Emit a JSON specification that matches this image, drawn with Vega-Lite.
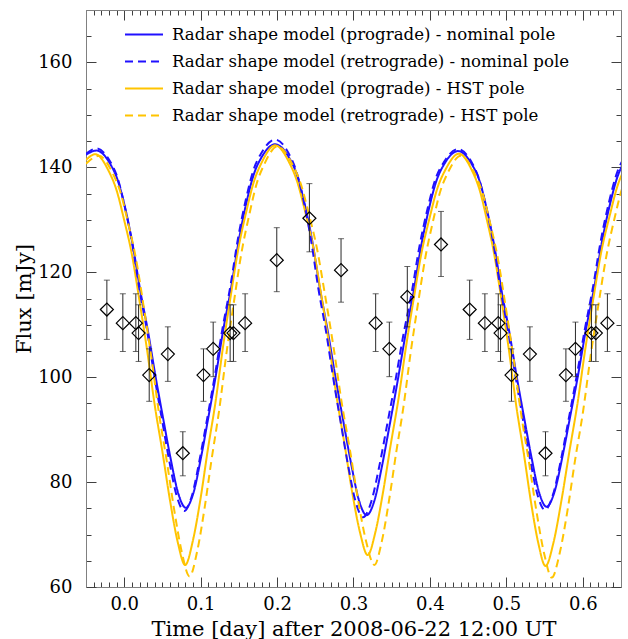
{
  "$schema": "https://vega.github.io/schema/vega-lite/v6.json",
  "width": 535,
  "height": 577,
  "autosize": {"type": "none"},
  "padding": {"left": 86, "top": 10, "right": 7, "bottom": 52},
  "background": "white",
  "config": {
    "view": {"stroke": null},
    "axis": {
      "grid": false,
      "labelFont": "DejaVu Serif",
      "titleFont": "DejaVu Serif",
      "labelFontSize": 18,
      "titleFontSize": 21,
      "titleFontWeight": "normal",
      "labelColor": "black",
      "titleColor": "black",
      "domainColor": "#808080",
      "domainWidth": 1,
      "tickColor": "#404040",
      "tickWidth": 1,
      "labelFlush": false,
      "labelOverlap": false
    }
  },
  "datasets": {
    "curves": [
      {"s": "Radar shape model (prograde) - nominal pole", "x": -0.05, "y": 142.4},
      {"s": "Radar shape model (prograde) - nominal pole", "x": -0.0365, "y": 143.2},
      {"s": "Radar shape model (prograde) - nominal pole", "x": -0.0189, "y": 140.8},
      {"s": "Radar shape model (prograde) - nominal pole", "x": -0.0084, "y": 137.5},
      {"s": "Radar shape model (prograde) - nominal pole", "x": 0.0010, "y": 132.4},
      {"s": "Radar shape model (prograde) - nominal pole", "x": 0.0115, "y": 124.9},
      {"s": "Radar shape model (prograde) - nominal pole", "x": 0.0209, "y": 116.6},
      {"s": "Radar shape model (prograde) - nominal pole", "x": 0.0314, "y": 108.5},
      {"s": "Radar shape model (prograde) - nominal pole", "x": 0.0408, "y": 100.3},
      {"s": "Radar shape model (prograde) - nominal pole", "x": 0.0513, "y": 91.85},
      {"s": "Radar shape model (prograde) - nominal pole", "x": 0.0607, "y": 84.5},
      {"s": "Radar shape model (prograde) - nominal pole", "x": 0.0706, "y": 77.9},
      {"s": "Radar shape model (prograde) - nominal pole", "x": 0.0806, "y": 75.1},
      {"s": "Radar shape model (prograde) - nominal pole", "x": 0.0905, "y": 77.9},
      {"s": "Radar shape model (prograde) - nominal pole", "x": 0.1005, "y": 84.7},
      {"s": "Radar shape model (prograde) - nominal pole", "x": 0.1098, "y": 92.1},
      {"s": "Radar shape model (prograde) - nominal pole", "x": 0.1203, "y": 100.7},
      {"s": "Radar shape model (prograde) - nominal pole", "x": 0.1297, "y": 109.1},
      {"s": "Radar shape model (prograde) - nominal pole", "x": 0.1402, "y": 117.3},
      {"s": "Radar shape model (prograde) - nominal pole", "x": 0.1496, "y": 125.8},
      {"s": "Radar shape model (prograde) - nominal pole", "x": 0.1601, "y": 133.4},
      {"s": "Radar shape model (prograde) - nominal pole", "x": 0.1694, "y": 138.6},
      {"s": "Radar shape model (prograde) - nominal pole", "x": 0.1800, "y": 142.0},
      {"s": "Radar shape model (prograde) - nominal pole", "x": 0.1975, "y": 144.4},
      {"s": "Radar shape model (prograde) - nominal pole", "x": 0.2155, "y": 141.9},
      {"s": "Radar shape model (prograde) - nominal pole", "x": 0.2262, "y": 138.5},
      {"s": "Radar shape model (prograde) - nominal pole", "x": 0.2358, "y": 133.2},
      {"s": "Radar shape model (prograde) - nominal pole", "x": 0.2466, "y": 125.5},
      {"s": "Radar shape model (prograde) - nominal pole", "x": 0.2562, "y": 116.8},
      {"s": "Radar shape model (prograde) - nominal pole", "x": 0.2669, "y": 108.3},
      {"s": "Radar shape model (prograde) - nominal pole", "x": 0.2765, "y": 99.9},
      {"s": "Radar shape model (prograde) - nominal pole", "x": 0.2873, "y": 91.1},
      {"s": "Radar shape model (prograde) - nominal pole", "x": 0.2969, "y": 83.5},
      {"s": "Radar shape model (prograde) - nominal pole", "x": 0.3070, "y": 76.6},
      {"s": "Radar shape model (prograde) - nominal pole", "x": 0.3172, "y": 73.7},
      {"s": "Radar shape model (prograde) - nominal pole", "x": 0.3274, "y": 76.5},
      {"s": "Radar shape model (prograde) - nominal pole", "x": 0.3376, "y": 83.3},
      {"s": "Radar shape model (prograde) - nominal pole", "x": 0.3472, "y": 90.8},
      {"s": "Radar shape model (prograde) - nominal pole", "x": 0.3579, "y": 99.4},
      {"s": "Radar shape model (prograde) - nominal pole", "x": 0.3675, "y": 107.7},
      {"s": "Radar shape model (prograde) - nominal pole", "x": 0.3783, "y": 116.0},
      {"s": "Radar shape model (prograde) - nominal pole", "x": 0.3879, "y": 124.5},
      {"s": "Radar shape model (prograde) - nominal pole", "x": 0.3987, "y": 132.1},
      {"s": "Radar shape model (prograde) - nominal pole", "x": 0.4082, "y": 137.3},
      {"s": "Radar shape model (prograde) - nominal pole", "x": 0.4190, "y": 140.7},
      {"s": "Radar shape model (prograde) - nominal pole", "x": 0.4370, "y": 143.1},
      {"s": "Radar shape model (prograde) - nominal pole", "x": 0.4543, "y": 140.7},
      {"s": "Radar shape model (prograde) - nominal pole", "x": 0.4647, "y": 137.5},
      {"s": "Radar shape model (prograde) - nominal pole", "x": 0.4740, "y": 132.3},
      {"s": "Radar shape model (prograde) - nominal pole", "x": 0.4844, "y": 124.9},
      {"s": "Radar shape model (prograde) - nominal pole", "x": 0.4936, "y": 116.6},
      {"s": "Radar shape model (prograde) - nominal pole", "x": 0.5040, "y": 108.5},
      {"s": "Radar shape model (prograde) - nominal pole", "x": 0.5132, "y": 100.4},
      {"s": "Radar shape model (prograde) - nominal pole", "x": 0.5236, "y": 92.0},
      {"s": "Radar shape model (prograde) - nominal pole", "x": 0.5329, "y": 84.7},
      {"s": "Radar shape model (prograde) - nominal pole", "x": 0.5427, "y": 78.1},
      {"s": "Radar shape model (prograde) - nominal pole", "x": 0.5525, "y": 75.3},
      {"s": "Radar shape model (prograde) - nominal pole", "x": 0.5629, "y": 78.1},
      {"s": "Radar shape model (prograde) - nominal pole", "x": 0.5733, "y": 84.8},
      {"s": "Radar shape model (prograde) - nominal pole", "x": 0.5831, "y": 92.2},
      {"s": "Radar shape model (prograde) - nominal pole", "x": 0.5942, "y": 100.7},
      {"s": "Radar shape model (prograde) - nominal pole", "x": 0.6040, "y": 109.0},
      {"s": "Radar shape model (prograde) - nominal pole", "x": 0.6150, "y": 117.1},
      {"s": "Radar shape model (prograde) - nominal pole", "x": 0.6248, "y": 125.6},
      {"s": "Radar shape model (prograde) - nominal pole", "x": 0.6358, "y": 133.1},
      {"s": "Radar shape model (prograde) - nominal pole", "x": 0.6456, "y": 138.3},
      {"s": "Radar shape model (prograde) - nominal pole", "x": 0.6566, "y": 141.6},

      {"s": "Radar shape model (prograde) - HST pole", "x": -0.05, "y": 141.4},
      {"s": "Radar shape model (prograde) - HST pole", "x": -0.038, "y": 142.5},
      {"s": "Radar shape model (prograde) - HST pole", "x": -0.0203, "y": 139.3},
      {"s": "Radar shape model (prograde) - HST pole", "x": -0.0097, "y": 135.5},
      {"s": "Radar shape model (prograde) - HST pole", "x": -0.0003, "y": 130.1},
      {"s": "Radar shape model (prograde) - HST pole", "x": 0.0103, "y": 123.2},
      {"s": "Radar shape model (prograde) - HST pole", "x": 0.0197, "y": 114.8},
      {"s": "Radar shape model (prograde) - HST pole", "x": 0.0303, "y": 104.8},
      {"s": "Radar shape model (prograde) - HST pole", "x": 0.0397, "y": 94.9},
      {"s": "Radar shape model (prograde) - HST pole", "x": 0.0503, "y": 85.5},
      {"s": "Radar shape model (prograde) - HST pole", "x": 0.0598, "y": 76.6},
      {"s": "Radar shape model (prograde) - HST pole", "x": 0.0698, "y": 68.7},
      {"s": "Radar shape model (prograde) - HST pole", "x": 0.0798, "y": 64.2},
      {"s": "Radar shape model (prograde) - HST pole", "x": 0.0898, "y": 68.8},
      {"s": "Radar shape model (prograde) - HST pole", "x": 0.0998, "y": 76.8},
      {"s": "Radar shape model (prograde) - HST pole", "x": 0.1092, "y": 86.0},
      {"s": "Radar shape model (prograde) - HST pole", "x": 0.1198, "y": 95.6},
      {"s": "Radar shape model (prograde) - HST pole", "x": 0.1292, "y": 105.7},
      {"s": "Radar shape model (prograde) - HST pole", "x": 0.1398, "y": 115.9},
      {"s": "Radar shape model (prograde) - HST pole", "x": 0.1492, "y": 124.4},
      {"s": "Radar shape model (prograde) - HST pole", "x": 0.1598, "y": 131.6},
      {"s": "Radar shape model (prograde) - HST pole", "x": 0.1693, "y": 137.1},
      {"s": "Radar shape model (prograde) - HST pole", "x": 0.1798, "y": 140.9},
      {"s": "Radar shape model (prograde) - HST pole", "x": 0.1975, "y": 144.2},
      {"s": "Radar shape model (prograde) - HST pole", "x": 0.2156, "y": 141.0},
      {"s": "Radar shape model (prograde) - HST pole", "x": 0.2265, "y": 137.2},
      {"s": "Radar shape model (prograde) - HST pole", "x": 0.2362, "y": 131.9},
      {"s": "Radar shape model (prograde) - HST pole", "x": 0.2471, "y": 124.9},
      {"s": "Radar shape model (prograde) - HST pole", "x": 0.2568, "y": 116.5},
      {"s": "Radar shape model (prograde) - HST pole", "x": 0.2677, "y": 106.6},
      {"s": "Radar shape model (prograde) - HST pole", "x": 0.2774, "y": 96.7},
      {"s": "Radar shape model (prograde) - HST pole", "x": 0.2882, "y": 87.3},
      {"s": "Radar shape model (prograde) - HST pole", "x": 0.2979, "y": 78.4},
      {"s": "Radar shape model (prograde) - HST pole", "x": 0.3082, "y": 70.6},
      {"s": "Radar shape model (prograde) - HST pole", "x": 0.3185, "y": 66.1},
      {"s": "Radar shape model (prograde) - HST pole", "x": 0.3287, "y": 70.5},
      {"s": "Radar shape model (prograde) - HST pole", "x": 0.3388, "y": 78.2},
      {"s": "Radar shape model (prograde) - HST pole", "x": 0.3484, "y": 86.9},
      {"s": "Radar shape model (prograde) - HST pole", "x": 0.3591, "y": 96.1},
      {"s": "Radar shape model (prograde) - HST pole", "x": 0.3687, "y": 105.8},
      {"s": "Radar shape model (prograde) - HST pole", "x": 0.3794, "y": 115.5},
      {"s": "Radar shape model (prograde) - HST pole", "x": 0.3890, "y": 123.7},
      {"s": "Radar shape model (prograde) - HST pole", "x": 0.3998, "y": 130.5},
      {"s": "Radar shape model (prograde) - HST pole", "x": 0.4093, "y": 135.8},
      {"s": "Radar shape model (prograde) - HST pole", "x": 0.4201, "y": 139.5},
      {"s": "Radar shape model (prograde) - HST pole", "x": 0.4380, "y": 142.6},
      {"s": "Radar shape model (prograde) - HST pole", "x": 0.4550, "y": 139.4},
      {"s": "Radar shape model (prograde) - HST pole", "x": 0.4652, "y": 135.6},
      {"s": "Radar shape model (prograde) - HST pole", "x": 0.4742, "y": 130.2},
      {"s": "Radar shape model (prograde) - HST pole", "x": 0.4844, "y": 123.2},
      {"s": "Radar shape model (prograde) - HST pole", "x": 0.4935, "y": 114.8},
      {"s": "Radar shape model (prograde) - HST pole", "x": 0.5037, "y": 104.8},
      {"s": "Radar shape model (prograde) - HST pole", "x": 0.5127, "y": 94.8},
      {"s": "Radar shape model (prograde) - HST pole", "x": 0.5229, "y": 85.4},
      {"s": "Radar shape model (prograde) - HST pole", "x": 0.5320, "y": 76.4},
      {"s": "Radar shape model (prograde) - HST pole", "x": 0.5416, "y": 68.5},
      {"s": "Radar shape model (prograde) - HST pole", "x": 0.5512, "y": 64.0},
      {"s": "Radar shape model (prograde) - HST pole", "x": 0.5617, "y": 68.5},
      {"s": "Radar shape model (prograde) - HST pole", "x": 0.5722, "y": 76.6},
      {"s": "Radar shape model (prograde) - HST pole", "x": 0.5822, "y": 85.6},
      {"s": "Radar shape model (prograde) - HST pole", "x": 0.5933, "y": 95.2},
      {"s": "Radar shape model (prograde) - HST pole", "x": 0.6032, "y": 105.3},
      {"s": "Radar shape model (prograde) - HST pole", "x": 0.6143, "y": 115.4},
      {"s": "Radar shape model (prograde) - HST pole", "x": 0.6242, "y": 123.9},
      {"s": "Radar shape model (prograde) - HST pole", "x": 0.6354, "y": 130.9},
      {"s": "Radar shape model (prograde) - HST pole", "x": 0.6453, "y": 136.4},
      {"s": "Radar shape model (prograde) - HST pole", "x": 0.6564, "y": 140.2},

      {"s": "Radar shape model (retrograde) - nominal pole", "x": -0.05, "y": 142.6},
      {"s": "Radar shape model (retrograde) - nominal pole", "x": -0.036, "y": 143.6},
      {"s": "Radar shape model (retrograde) - nominal pole", "x": -0.0188, "y": 141.2},
      {"s": "Radar shape model (retrograde) - nominal pole", "x": -0.0085, "y": 137.9},
      {"s": "Radar shape model (retrograde) - nominal pole", "x": 0.0006, "y": 132.6},
      {"s": "Radar shape model (retrograde) - nominal pole", "x": 0.0109, "y": 125.1},
      {"s": "Radar shape model (retrograde) - nominal pole", "x": 0.0201, "y": 116.6},
      {"s": "Radar shape model (retrograde) - nominal pole", "x": 0.0304, "y": 108.4},
      {"s": "Radar shape model (retrograde) - nominal pole", "x": 0.0396, "y": 100.1},
      {"s": "Radar shape model (retrograde) - nominal pole", "x": 0.0499, "y": 91.5},
      {"s": "Radar shape model (retrograde) - nominal pole", "x": 0.0590, "y": 84.0},
      {"s": "Radar shape model (retrograde) - nominal pole", "x": 0.0688, "y": 77.3},
      {"s": "Radar shape model (retrograde) - nominal pole", "x": 0.0785, "y": 74.5},
      {"s": "Radar shape model (retrograde) - nominal pole", "x": 0.0886, "y": 77.4},
      {"s": "Radar shape model (retrograde) - nominal pole", "x": 0.0987, "y": 84.3},
      {"s": "Radar shape model (retrograde) - nominal pole", "x": 0.1083, "y": 91.9},
      {"s": "Radar shape model (retrograde) - nominal pole", "x": 0.1190, "y": 100.7},
      {"s": "Radar shape model (retrograde) - nominal pole", "x": 0.1285, "y": 109.2},
      {"s": "Radar shape model (retrograde) - nominal pole", "x": 0.1392, "y": 117.6},
      {"s": "Radar shape model (retrograde) - nominal pole", "x": 0.1487, "y": 126.3},
      {"s": "Radar shape model (retrograde) - nominal pole", "x": 0.1594, "y": 134.0},
      {"s": "Radar shape model (retrograde) - nominal pole", "x": 0.1689, "y": 139.4},
      {"s": "Radar shape model (retrograde) - nominal pole", "x": 0.1797, "y": 142.8},
      {"s": "Radar shape model (retrograde) - nominal pole", "x": 0.1975, "y": 145.3},
      {"s": "Radar shape model (retrograde) - nominal pole", "x": 0.2147, "y": 142.8},
      {"s": "Radar shape model (retrograde) - nominal pole", "x": 0.2251, "y": 139.3},
      {"s": "Radar shape model (retrograde) - nominal pole", "x": 0.2343, "y": 133.9},
      {"s": "Radar shape model (retrograde) - nominal pole", "x": 0.2446, "y": 126.0},
      {"s": "Radar shape model (retrograde) - nominal pole", "x": 0.2538, "y": 117.1},
      {"s": "Radar shape model (retrograde) - nominal pole", "x": 0.2642, "y": 108.6},
      {"s": "Radar shape model (retrograde) - nominal pole", "x": 0.2734, "y": 99.9},
      {"s": "Radar shape model (retrograde) - nominal pole", "x": 0.2837, "y": 91.0},
      {"s": "Radar shape model (retrograde) - nominal pole", "x": 0.2929, "y": 83.2},
      {"s": "Radar shape model (retrograde) - nominal pole", "x": 0.3027, "y": 76.3},
      {"s": "Radar shape model (retrograde) - nominal pole", "x": 0.3125, "y": 73.3},
      {"s": "Radar shape model (retrograde) - nominal pole", "x": 0.3231, "y": 76.2},
      {"s": "Radar shape model (retrograde) - nominal pole", "x": 0.3337, "y": 83.0},
      {"s": "Radar shape model (retrograde) - nominal pole", "x": 0.3436, "y": 90.6},
      {"s": "Radar shape model (retrograde) - nominal pole", "x": 0.3548, "y": 99.3},
      {"s": "Radar shape model (retrograde) - nominal pole", "x": 0.3648, "y": 107.7},
      {"s": "Radar shape model (retrograde) - nominal pole", "x": 0.3760, "y": 116.0},
      {"s": "Radar shape model (retrograde) - nominal pole", "x": 0.3860, "y": 124.7},
      {"s": "Radar shape model (retrograde) - nominal pole", "x": 0.3972, "y": 132.3},
      {"s": "Radar shape model (retrograde) - nominal pole", "x": 0.4071, "y": 137.7},
      {"s": "Radar shape model (retrograde) - nominal pole", "x": 0.4183, "y": 141.0},
      {"s": "Radar shape model (retrograde) - nominal pole", "x": 0.4370, "y": 143.5},
      {"s": "Radar shape model (retrograde) - nominal pole", "x": 0.4540, "y": 141.1},
      {"s": "Radar shape model (retrograde) - nominal pole", "x": 0.4642, "y": 137.8},
      {"s": "Radar shape model (retrograde) - nominal pole", "x": 0.4733, "y": 132.6},
      {"s": "Radar shape model (retrograde) - nominal pole", "x": 0.4835, "y": 125.1},
      {"s": "Radar shape model (retrograde) - nominal pole", "x": 0.4926, "y": 116.6},
      {"s": "Radar shape model (retrograde) - nominal pole", "x": 0.5028, "y": 108.4},
      {"s": "Radar shape model (retrograde) - nominal pole", "x": 0.5119, "y": 100.2},
      {"s": "Radar shape model (retrograde) - nominal pole", "x": 0.5221, "y": 91.6},
      {"s": "Radar shape model (retrograde) - nominal pole", "x": 0.5312, "y": 84.2},
      {"s": "Radar shape model (retrograde) - nominal pole", "x": 0.5409, "y": 77.5},
      {"s": "Radar shape model (retrograde) - nominal pole", "x": 0.5505, "y": 74.7},
      {"s": "Radar shape model (retrograde) - nominal pole", "x": 0.5610, "y": 77.6},
      {"s": "Radar shape model (retrograde) - nominal pole", "x": 0.5715, "y": 84.3},
      {"s": "Radar shape model (retrograde) - nominal pole", "x": 0.5814, "y": 91.9},
      {"s": "Radar shape model (retrograde) - nominal pole", "x": 0.5925, "y": 100.6},
      {"s": "Radar shape model (retrograde) - nominal pole", "x": 0.6024, "y": 108.9},
      {"s": "Radar shape model (retrograde) - nominal pole", "x": 0.6135, "y": 117.3},
      {"s": "Radar shape model (retrograde) - nominal pole", "x": 0.6234, "y": 125.9},
      {"s": "Radar shape model (retrograde) - nominal pole", "x": 0.6345, "y": 133.5},
      {"s": "Radar shape model (retrograde) - nominal pole", "x": 0.6444, "y": 138.8},
      {"s": "Radar shape model (retrograde) - nominal pole", "x": 0.6555, "y": 142.2},

      {"s": "Radar shape model (retrograde) - HST pole", "x": -0.05, "y": 140.7},
      {"s": "Radar shape model (retrograde) - HST pole", "x": -0.033, "y": 142.2},
      {"s": "Radar shape model (retrograde) - HST pole", "x": -0.0152, "y": 138.9},
      {"s": "Radar shape model (retrograde) - HST pole", "x": -0.0046, "y": 135.1},
      {"s": "Radar shape model (retrograde) - HST pole", "x": 0.0049, "y": 129.5},
      {"s": "Radar shape model (retrograde) - HST pole", "x": 0.0156, "y": 122.4},
      {"s": "Radar shape model (retrograde) - HST pole", "x": 0.0251, "y": 113.8},
      {"s": "Radar shape model (retrograde) - HST pole", "x": 0.0357, "y": 103.6},
      {"s": "Radar shape model (retrograde) - HST pole", "x": 0.0452, "y": 93.4},
      {"s": "Radar shape model (retrograde) - HST pole", "x": 0.0559, "y": 83.8},
      {"s": "Radar shape model (retrograde) - HST pole", "x": 0.0654, "y": 74.7},
      {"s": "Radar shape model (retrograde) - HST pole", "x": 0.0754, "y": 66.6},
      {"s": "Radar shape model (retrograde) - HST pole", "x": 0.0855, "y": 62.0},
      {"s": "Radar shape model (retrograde) - HST pole", "x": 0.0953, "y": 66.7},
      {"s": "Radar shape model (retrograde) - HST pole", "x": 0.1051, "y": 75.0},
      {"s": "Radar shape model (retrograde) - HST pole", "x": 0.1143, "y": 84.3},
      {"s": "Radar shape model (retrograde) - HST pole", "x": 0.1246, "y": 94.1},
      {"s": "Radar shape model (retrograde) - HST pole", "x": 0.1338, "y": 104.6},
      {"s": "Radar shape model (retrograde) - HST pole", "x": 0.1442, "y": 115.0},
      {"s": "Radar shape model (retrograde) - HST pole", "x": 0.1534, "y": 123.7},
      {"s": "Radar shape model (retrograde) - HST pole", "x": 0.1637, "y": 131.0},
      {"s": "Radar shape model (retrograde) - HST pole", "x": 0.1729, "y": 136.7},
      {"s": "Radar shape model (retrograde) - HST pole", "x": 0.1833, "y": 140.6},
      {"s": "Radar shape model (retrograde) - HST pole", "x": 0.2005, "y": 144.0},
      {"s": "Radar shape model (retrograde) - HST pole", "x": 0.2195, "y": 140.7},
      {"s": "Radar shape model (retrograde) - HST pole", "x": 0.2309, "y": 136.9},
      {"s": "Radar shape model (retrograde) - HST pole", "x": 0.2411, "y": 131.4},
      {"s": "Radar shape model (retrograde) - HST pole", "x": 0.2525, "y": 124.3},
      {"s": "Radar shape model (retrograde) - HST pole", "x": 0.2626, "y": 115.8},
      {"s": "Radar shape model (retrograde) - HST pole", "x": 0.2740, "y": 105.6},
      {"s": "Radar shape model (retrograde) - HST pole", "x": 0.2842, "y": 95.5},
      {"s": "Radar shape model (retrograde) - HST pole", "x": 0.2956, "y": 85.9},
      {"s": "Radar shape model (retrograde) - HST pole", "x": 0.3057, "y": 76.8},
      {"s": "Radar shape model (retrograde) - HST pole", "x": 0.3165, "y": 68.7},
      {"s": "Radar shape model (retrograde) - HST pole", "x": 0.3273, "y": 64.2},
      {"s": "Radar shape model (retrograde) - HST pole", "x": 0.3369, "y": 68.6},
      {"s": "Radar shape model (retrograde) - HST pole", "x": 0.3465, "y": 76.5},
      {"s": "Radar shape model (retrograde) - HST pole", "x": 0.3556, "y": 85.4},
      {"s": "Radar shape model (retrograde) - HST pole", "x": 0.3658, "y": 94.8},
      {"s": "Radar shape model (retrograde) - HST pole", "x": 0.3748, "y": 104.7},
      {"s": "Radar shape model (retrograde) - HST pole", "x": 0.3850, "y": 114.6},
      {"s": "Radar shape model (retrograde) - HST pole", "x": 0.3941, "y": 122.9},
      {"s": "Radar shape model (retrograde) - HST pole", "x": 0.4043, "y": 129.9},
      {"s": "Radar shape model (retrograde) - HST pole", "x": 0.4133, "y": 135.3},
      {"s": "Radar shape model (retrograde) - HST pole", "x": 0.4235, "y": 139.0},
      {"s": "Radar shape model (retrograde) - HST pole", "x": 0.4405, "y": 142.2},
      {"s": "Radar shape model (retrograde) - HST pole", "x": 0.4583, "y": 138.9},
      {"s": "Radar shape model (retrograde) - HST pole", "x": 0.4691, "y": 135.0},
      {"s": "Radar shape model (retrograde) - HST pole", "x": 0.4786, "y": 129.5},
      {"s": "Radar shape model (retrograde) - HST pole", "x": 0.4893, "y": 122.3},
      {"s": "Radar shape model (retrograde) - HST pole", "x": 0.4988, "y": 113.7},
      {"s": "Radar shape model (retrograde) - HST pole", "x": 0.5095, "y": 103.5},
      {"s": "Radar shape model (retrograde) - HST pole", "x": 0.5190, "y": 93.3},
      {"s": "Radar shape model (retrograde) - HST pole", "x": 0.5297, "y": 83.7},
      {"s": "Radar shape model (retrograde) - HST pole", "x": 0.5393, "y": 74.5},
      {"s": "Radar shape model (retrograde) - HST pole", "x": 0.5494, "y": 66.4},
      {"s": "Radar shape model (retrograde) - HST pole", "x": 0.5595, "y": 61.8},
      {"s": "Radar shape model (retrograde) - HST pole", "x": 0.5697, "y": 66.4},
      {"s": "Radar shape model (retrograde) - HST pole", "x": 0.5800, "y": 74.6},
      {"s": "Radar shape model (retrograde) - HST pole", "x": 0.5896, "y": 83.9},
      {"s": "Radar shape model (retrograde) - HST pole", "x": 0.6005, "y": 93.6},
      {"s": "Radar shape model (retrograde) - HST pole", "x": 0.6101, "y": 103.9},
      {"s": "Radar shape model (retrograde) - HST pole", "x": 0.6210, "y": 114.3},
      {"s": "Radar shape model (retrograde) - HST pole", "x": 0.6306, "y": 122.9},
      {"s": "Radar shape model (retrograde) - HST pole", "x": 0.6414, "y": 130.2},
      {"s": "Radar shape model (retrograde) - HST pole", "x": 0.6511, "y": 135.8},
      {"s": "Radar shape model (retrograde) - HST pole", "x": 0.662, "y": 139.5}
    ],
    "obs": [
      {"x": -0.0227, "y": 112.9, "lo": 107.2, "hi": 118.5},
      {"x": -0.0018, "y": 110.3, "lo": 104.9, "hi": 115.9},
      {"x": 0.0152, "y": 110.3, "lo": 104.9, "hi": 115.9},
      {"x": 0.0188, "y": 108.4, "lo": 103.0, "hi": 113.8},
      {"x": 0.0327, "y": 100.4, "lo": 95.4, "hi": 105.4},
      {"x": 0.0571, "y": 104.4, "lo": 99.2, "hi": 109.6},
      {"x": 0.0767, "y": 85.5, "lo": 81.2, "hi": 89.6},
      {"x": 0.1037, "y": 100.4, "lo": 95.4, "hi": 105.4},
      {"x": 0.1164, "y": 105.4, "lo": 100.1, "hi": 110.5},
      {"x": 0.1386, "y": 108.4, "lo": 103.0, "hi": 113.8},
      {"x": 0.1429, "y": 108.4, "lo": 103.0, "hi": 113.8},
      {"x": 0.1582, "y": 110.3, "lo": 104.9, "hi": 115.9},
      {"x": 0.1996, "y": 122.3, "lo": 116.3, "hi": 128.5},
      {"x": 0.2423, "y": 130.3, "lo": 123.9, "hi": 136.9},
      {"x": 0.2837, "y": 120.4, "lo": 114.3, "hi": 126.4},
      {"x": 0.3290, "y": 110.3, "lo": 104.9, "hi": 115.9},
      {"x": 0.3469, "y": 105.4, "lo": 100.1, "hi": 110.5},
      {"x": 0.3704, "y": 115.3, "lo": 109.6, "hi": 121.1},
      {"x": 0.4145, "y": 125.3, "lo": 119.2, "hi": 131.6},
      {"x": 0.4520, "y": 112.9, "lo": 107.2, "hi": 118.5},
      {"x": 0.4719, "y": 110.3, "lo": 104.9, "hi": 115.9},
      {"x": 0.4894, "y": 110.3, "lo": 104.9, "hi": 115.9},
      {"x": 0.4924, "y": 108.4, "lo": 103.0, "hi": 113.8},
      {"x": 0.5067, "y": 100.4, "lo": 95.4, "hi": 105.4},
      {"x": 0.5308, "y": 104.4, "lo": 99.2, "hi": 109.6},
      {"x": 0.5512, "y": 85.5, "lo": 81.2, "hi": 89.6},
      {"x": 0.5779, "y": 100.4, "lo": 95.4, "hi": 105.4},
      {"x": 0.5904, "y": 105.4, "lo": 100.1, "hi": 110.5},
      {"x": 0.6113, "y": 108.4, "lo": 103.0, "hi": 113.8},
      {"x": 0.6171, "y": 108.4, "lo": 103.0, "hi": 113.8},
      {"x": 0.6322, "y": 110.3, "lo": 104.9, "hi": 115.9}
    ]
  },
  "layer": [
    {
      "data": {"name": "curves"},
      "transform": [{"filter": "indexof(datum.s, '(prograde)') >= 0"}],
      "mark": {"type": "line", "strokeWidth": 2, "clip": true, "interpolate": "monotone"},
      "encoding": {
        "x": {"field": "x", "type": "quantitative",
              "scale": {"domain": [-0.05, 0.65], "nice": false, "zero": false},
              "axis": {"orient": "bottom", "values": [0, 0.1, 0.2, 0.3, 0.4, 0.5, 0.6], "format": ".1f",
                       "tickSize": -10, "labelPadding": 18, "title": "Time [day] after 2008-06-22 12:00 UT", "titlePadding": 5}},
        "y": {"field": "y", "type": "quantitative",
              "scale": {"domain": [60, 170], "nice": false, "zero": false},
              "axis": {"orient": "left", "values": [60, 80, 100, 120, 140, 160],
                       "tickSize": -10, "labelPadding": 24, "title": "Flux [mJy]", "titlePadding": 3}},
        "color": {"field": "s", "type": "nominal",
                  "scale": {"domain": ["Radar shape model (prograde) - nominal pole", "Radar shape model (retrograde) - nominal pole", "Radar shape model (prograde) - HST pole", "Radar shape model (retrograde) - HST pole"],
                            "range": ["#2010ff", "#2010ff", "#ffc400", "#ffc400"]},
                  "legend": {"orient": "none", "legendX": 38, "legendY": 11, "title": null, "padding": 0,
                             "symbolType": "stroke", "symbolSize": 1444, "symbolStrokeWidth": 2,
                             "labelFont": "DejaVu Serif", "labelFontSize": 16.6, "labelColor": "black",
                             "labelOffset": 8, "labelLimit": 0, "rowPadding": 0, "clipHeight": 27}},
        "strokeDash": {"field": "s", "type": "nominal",
                  "scale": {"domain": ["Radar shape model (prograde) - nominal pole", "Radar shape model (retrograde) - nominal pole", "Radar shape model (prograde) - HST pole", "Radar shape model (retrograde) - HST pole"],
                            "range": [[1, 0], [8, 5], [1, 0], [8, 5]]},
                  "legend": {"orient": "none", "legendX": 38, "legendY": 11, "title": null, "padding": 0,
                             "symbolType": "stroke", "symbolSize": 1444, "symbolStrokeWidth": 2,
                             "labelFont": "DejaVu Serif", "labelFontSize": 16.6, "labelColor": "black",
                             "labelOffset": 8, "labelLimit": 0, "rowPadding": 0, "clipHeight": 27}}
      }
    },
    {
      "data": {"name": "curves"},
      "transform": [{"filter": "indexof(datum.s, '(retrograde)') >= 0"}],
      "mark": {"type": "line", "strokeWidth": 2, "clip": true, "interpolate": "monotone"},
      "encoding": {
        "x": {"field": "x", "type": "quantitative",
              "scale": {"domain": [-0.05, 0.65], "nice": false, "zero": false},
              "axis": {"orient": "top", "values": [-0.05, -0.04, -0.03, -0.02, -0.01, 0, 0.01, 0.02, 0.03, 0.04, 0.05, 0.06, 0.07, 0.08, 0.09, 0.1, 0.11, 0.12, 0.13, 0.14, 0.15, 0.16, 0.17, 0.18, 0.19, 0.2, 0.21, 0.22, 0.23, 0.24, 0.25, 0.26, 0.27, 0.28, 0.29, 0.3, 0.31, 0.32, 0.33, 0.34, 0.35, 0.36, 0.37, 0.38, 0.39, 0.4, 0.41, 0.42, 0.43, 0.44, 0.45, 0.46, 0.47, 0.48, 0.49, 0.5, 0.51, 0.52, 0.53, 0.54, 0.55, 0.56, 0.57, 0.58, 0.59, 0.6, 0.61, 0.62, 0.63, 0.64],
                       "labels": false, "tickSize": -5, "title": null}},
        "y": {"field": "y", "type": "quantitative",
              "scale": {"domain": [60, 170], "nice": false, "zero": false},
              "axis": {"orient": "right", "values": [65, 70, 75, 85, 90, 95, 105, 110, 115, 125, 130, 135, 145, 150, 155, 165],
                       "labels": false, "tickSize": -5, "title": null}},
        "color": {"field": "s", "type": "nominal",
                  "scale": {"domain": ["Radar shape model (prograde) - nominal pole", "Radar shape model (retrograde) - nominal pole", "Radar shape model (prograde) - HST pole", "Radar shape model (retrograde) - HST pole"],
                            "range": ["#2010ff", "#2010ff", "#ffc400", "#ffc400"]},
                  "legend": {"orient": "none", "legendX": 38, "legendY": 11, "title": null, "padding": 0,
                             "symbolType": "stroke", "symbolSize": 1444, "symbolStrokeWidth": 2,
                             "labelFont": "DejaVu Serif", "labelFontSize": 16.6, "labelColor": "black",
                             "labelOffset": 8, "labelLimit": 0, "rowPadding": 0, "clipHeight": 27}},
        "strokeDash": {"field": "s", "type": "nominal",
                  "scale": {"domain": ["Radar shape model (prograde) - nominal pole", "Radar shape model (retrograde) - nominal pole", "Radar shape model (prograde) - HST pole", "Radar shape model (retrograde) - HST pole"],
                            "range": [[1, 0], [8, 5], [1, 0], [8, 5]]},
                  "legend": {"orient": "none", "legendX": 38, "legendY": 11, "title": null, "padding": 0,
                             "symbolType": "stroke", "symbolSize": 1444, "symbolStrokeWidth": 2,
                             "labelFont": "DejaVu Serif", "labelFontSize": 16.6, "labelColor": "black",
                             "labelOffset": 8, "labelLimit": 0, "rowPadding": 0, "clipHeight": 27}}
      }
    },
    {
      "data": {"name": "obs"},
      "mark": {"type": "errorbar", "ticks": true, "color": "#2a2a2a", "thickness": 1, "size": 6},
      "encoding": {
        "x": {"field": "x", "type": "quantitative",
              "scale": {"domain": [-0.05, 0.65], "nice": false, "zero": false},
              "axis": {"orient": "top", "values": [0, 0.1, 0.2, 0.3, 0.4, 0.5, 0.6], "labels": false, "tickSize": -10, "title": null}},
        "y": {"field": "lo", "type": "quantitative",
              "scale": {"domain": [60, 170], "nice": false, "zero": false},
              "axis": {"orient": "right", "values": [60, 80, 100, 120, 140, 160], "labels": false, "tickSize": -10, "title": null}},
        "y2": {"field": "hi"}
      }
    },
    {
      "data": {"name": "obs"},
      "mark": {"type": "point", "shape": "diamond", "filled": false, "size": 170, "strokeWidth": 1.2, "color": "black", "opacity": 1},
      "encoding": {
        "x": {"field": "x", "type": "quantitative",
              "scale": {"domain": [-0.05, 0.65], "nice": false, "zero": false},
              "axis": {"orient": "bottom", "values": [-0.05, -0.04, -0.03, -0.02, -0.01, 0, 0.01, 0.02, 0.03, 0.04, 0.05, 0.06, 0.07, 0.08, 0.09, 0.1, 0.11, 0.12, 0.13, 0.14, 0.15, 0.16, 0.17, 0.18, 0.19, 0.2, 0.21, 0.22, 0.23, 0.24, 0.25, 0.26, 0.27, 0.28, 0.29, 0.3, 0.31, 0.32, 0.33, 0.34, 0.35, 0.36, 0.37, 0.38, 0.39, 0.4, 0.41, 0.42, 0.43, 0.44, 0.45, 0.46, 0.47, 0.48, 0.49, 0.5, 0.51, 0.52, 0.53, 0.54, 0.55, 0.56, 0.57, 0.58, 0.59, 0.6, 0.61, 0.62, 0.63, 0.64],
                       "labels": false, "tickSize": -5, "title": null}},
        "y": {"field": "y", "type": "quantitative",
              "scale": {"domain": [60, 170], "nice": false, "zero": false},
              "axis": {"orient": "left", "values": [65, 70, 75, 85, 90, 95, 105, 110, 115, 125, 130, 135, 145, 150, 155, 165],
                       "labels": false, "tickSize": -5, "title": null}}
      }
    }
  ],
  "resolve": {"axis": {"x": "independent", "y": "independent"}}
}
